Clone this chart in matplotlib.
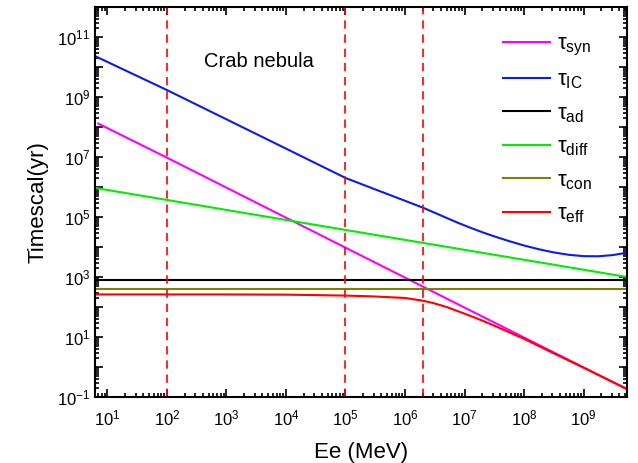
import math
import matplotlib
matplotlib.use("Agg")
import matplotlib.pyplot as plt
from matplotlib.ticker import FixedLocator, LogLocator, FuncFormatter, NullFormatter

plt.rcParams['font.family'] = ['Liberation Sans', 'DejaVu Sans']
plt.rcParams['mathtext.fontset'] = 'custom'
plt.rcParams['mathtext.rm'] = 'Liberation Sans'
plt.rcParams['mathtext.it'] = 'Liberation Sans'
plt.rcParams['mathtext.bf'] = 'Liberation Sans:bold'

# values (Ee in MeV, timescale in yr)
e_syn = [7, 1e2, 1e5, 5.4e9]
t_syn = [1.3e8, 9.5e6, 9.5e3, 0.18]

e_ic = [6.2, 1e2, 1e3, 1e4, 1e5, 2.8e5, 1e6, 2e6, 3.16e6, 5e6, 7.9e6, 1.26e7, 2e7,
        3.16e7, 5.6e7, 1e8, 1.78e8, 3.16e8, 5.6e8, 1e9, 1.78e9, 3.16e9, 5.4e9]
t_ic = [2.3e10, 1.7e9, 1.8e8, 1.9e7, 2.0e6, 9.1e5, 3.47e5, 2.04e5, 1.38e5, 9.3e4, 6.3e4, 4.37e4, 3.09e4,
        2.26e4, 1.57e4, 1.12e4, 8.4e3, 6.6e3, 5.5e3, 4.95e3, 4.9e3, 5.4e3, 6.5e3]

e_ad = [6.2, 5.4e9]
t_ad = [800, 800]

e_diff = [6.2, 1e2, 1e5, 5.4e9]
t_diff = [9.3e5, 3.7e5, 3.7e4, 1.0e3]

e_con = [6.2, 5.4e9]
t_con = [390, 390]

e_eff = [6.2, 1e2, 1e3, 1e4, 3e4, 1e5, 3e5, 1e6, 2e6, 3e6, 5e6, 1e7, 1.5e7, 2e7, 3e7, 5e7,
         1e8, 3e8, 1e9, 5.4e9]
t_eff = [262, 262, 262, 258, 250, 240, 225, 200, 162, 135, 100, 60, 44, 35, 25, 16,
         8.7, 3.0, 0.95, 0.185]

e_marks = [1e2, 1e5, 2e6]

x_ticks = [1e1, 1e2, 1e3, 1e4, 1e5, 1e6, 1e7, 1e8, 1e9]
y_ticks = [1e-1, 1e0, 1e1, 1e2, 1e3, 1e4, 1e5, 1e6, 1e7, 1e8, 1e9, 1e10, 1e11]

fig = plt.figure(figsize=(6.38, 4.63), dpi=100)
ax = fig.add_axes([0.149, 0.1425, 0.834, 0.8425])

lw = 1.5
ax.plot(e_syn, t_syn, color='#FF00FF', lw=lw, label='τ$_{\\rm syn}$')
ax.plot(e_ic, t_ic, color='#0A1EE6', lw=lw, label='τ$_{\\rm IC}$')
ax.plot(e_ad, t_ad, color='black', lw=lw, label='τ$_{\\rm ad}$')
ax.plot(e_diff, t_diff, color='#00EE00', lw=lw, label='τ$_{\\rm diff}$')
ax.plot(e_con, t_con, color='#808000', lw=lw, label='τ$_{\\rm con}$')
ax.plot(e_eff, t_eff, color='#FF0000', lw=lw, label='τ$_{\\rm eff}$')

for e in e_marks:
    ax.axvline(e, color='#FF0000', lw=1.2, dashes=(5, 3.5))

ax.set_xscale('log')
ax.set_yscale('log')
ax.set_xlim(6.2, 5.4e9)
ax.set_ylim(0.1, 1e12)

ax.xaxis.set_major_locator(FixedLocator(x_ticks))
ax.xaxis.set_minor_locator(LogLocator(base=10, subs=range(2, 10), numticks=20))
ax.yaxis.set_major_locator(FixedLocator(y_ticks))
ax.yaxis.set_minor_locator(LogLocator(base=10, subs=range(2, 10), numticks=30))


def fmt(v, pos):
    p = int(round(math.log10(v)))
    return '$10^{%d}$' % p


def fmt_y(v, pos):
    p = int(round(math.log10(v)))
    if p % 2 == 0:
        return ''
    return '$10^{%d}$' % p


ax.xaxis.set_major_formatter(FuncFormatter(fmt))
ax.yaxis.set_major_formatter(FuncFormatter(fmt_y))
ax.xaxis.set_minor_formatter(NullFormatter())
ax.yaxis.set_minor_formatter(NullFormatter())

ax.tick_params(which='both', direction='in', top=True, right=True, labelsize=12, width=1.2)
ax.tick_params(which='major', length=6)
ax.tick_params(which='minor', length=3)
ax.tick_params(axis='x', which='major', pad=8)
for s in ax.spines.values():
    s.set_linewidth(1.5)

ax.set_xlabel('Ee (MeV)', fontsize=16, labelpad=10)
ax.set_ylabel('Timescal(yr)', fontsize=16, labelpad=6)

ax.text(0.308, 0.859, 'Crab nebula', transform=ax.transAxes, fontsize=14.5,
        ha='center', va='center')

ax.legend(loc='upper left', bbox_to_anchor=(0.767, 0.932), frameon=False, fontsize=16,
          handlelength=2.1, handletextpad=0.3, labelspacing=0.53, borderpad=0,
          borderaxespad=0)

fig.savefig('out.png', dpi=100)
